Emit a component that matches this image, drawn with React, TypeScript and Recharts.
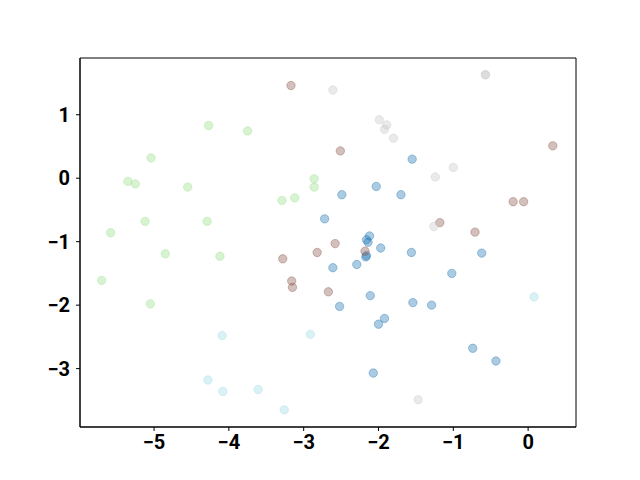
import React from 'react';
import { ScatterChart, Scatter, XAxis, YAxis, ReferenceArea } from 'recharts';

// values, one array per colour group
const blueX = [-2.72, -1.55, -2.03, -1.70, -2.49, -2.16, -2.14, -1.97, -2.16, -2.17, -1.56, -0.62, -2.61, -2.29, -1.02, -2.11, -2.52, -1.54, -1.29, -1.92, -2.00, -0.74, -0.43, -2.07, -2.12];
const blueY = [-0.64, 0.30, -0.13, -0.26, -0.26, -0.97, -1.01, -1.10, -1.22, -1.24, -1.17, -1.18, -1.41, -1.36, -1.50, -1.85, -2.02, -1.96, -2.00, -2.21, -2.30, -2.68, -2.88, -3.07, -0.91];

const brownX = [-3.17, -2.51, 0.33, -0.20, -0.06, -1.18, -0.71, -2.58, -3.28, -2.82, -3.16, -3.15, -2.67, -2.18];
const brownY = [1.46, 0.43, 0.51, -0.37, -0.37, -0.70, -0.85, -1.03, -1.27, -1.17, -1.62, -1.72, -1.79, -1.15];

const grayX = [-2.61, -0.57, -0.57, -1.99, -1.89, -1.92, -1.80, -1.00, -1.24, -1.26, -1.47];
const grayY = [1.39, 1.63, 1.63, 0.92, 0.84, 0.77, 0.63, 0.17, 0.02, -0.76, -3.49];

const greenX = [-4.27, -3.75, -5.04, -5.35, -5.25, -4.55, -2.86, -2.86, -3.29, -3.12, -5.12, -4.29, -5.58, -4.85, -4.12, -5.70, -5.05];
const greenY = [0.83, 0.745, 0.32, -0.05, -0.09, -0.14, -0.01, -0.14, -0.35, -0.31, -0.68, -0.68, -0.86, -1.19, -1.23, -1.61, -1.98];

const cyanX = [-4.09, -2.91, -4.28, -4.08, -3.61, -3.26, 0.08];
const cyanY = [-2.48, -2.46, -3.18, -3.36, -3.33, -3.65, -1.87];

const xTicks = [-5, -4, -3, -2, -1, 0];
const yTicks = [-3, -2, -1, 0, 1];
const xDomain = [-5.99, 0.64];
const yDomain = [-3.92, 1.894];

const toPoints = (xs: number[], ys: number[]) => xs.map((x, i) => ({ x, y: ys[i] }));

const groups = [
  { name: 'blue', color: '#1f77b4', data: toPoints(blueX, blueY) },
  { name: 'brown', color: '#8c564b', data: toPoints(brownX, brownY) },
  { name: 'gray', color: '#c7c7c7', data: toPoints(grayX, grayY) },
  { name: 'green', color: '#98df8a', data: toPoints(greenX, greenY) },
  { name: 'cyan', color: '#9edae5', data: toPoints(cyanX, cyanY) },
];

const fmt = (v: number) => (v < 0 ? `\u2212${Math.abs(v)}` : `${v}`);

const tickStyle = { fontFamily: 'Roboto', fontWeight: 700, fontSize: 20, fill: '#000' };

const dot = (color: string) => (props: any) => (
  <circle
    cx={props.cx}
    cy={props.cy}
    r={4.2}
    fill={color}
    fillOpacity={0.38}
    stroke={color}
    strokeOpacity={0.38}
    strokeWidth={1}
  />
);

export default function App() {
  return (
    <div style={{ position: 'fixed', left: 0, top: 0, width: 640, height: 480, background: '#fff' }}>
      <ScatterChart width={640} height={480} margin={{ top: 58, right: 64, bottom: 0, left: 0 }}>
        <XAxis
          type="number"
          dataKey="x"
          domain={xDomain}
          ticks={xTicks}
          tickFormatter={fmt}
          tick={tickStyle}
          tickSize={4}
          tickMargin={4}
          height={53}
          stroke="#000"
          allowDataOverflow
        />
        <YAxis
          type="number"
          dataKey="y"
          domain={yDomain}
          ticks={yTicks}
          tickFormatter={fmt}
          tick={tickStyle}
          tickSize={4}
          tickMargin={6}
          width={80}
          stroke="#000"
          allowDataOverflow
        />
        <ReferenceArea
          x1={xDomain[0]}
          x2={xDomain[1]}
          y1={yDomain[0]}
          y2={yDomain[1]}
          fill="none"
          fillOpacity={0}
          stroke="#000"
          strokeOpacity={1}
          strokeWidth={1}
          ifOverflow="visible"
        />
        {groups.map((g) => (
          <Scatter
            key={g.name}
            name={g.name}
            data={g.data}
            shape={dot(g.color)}
            isAnimationActive={false}
          />
        ))}
      </ScatterChart>
    </div>
  );
}
